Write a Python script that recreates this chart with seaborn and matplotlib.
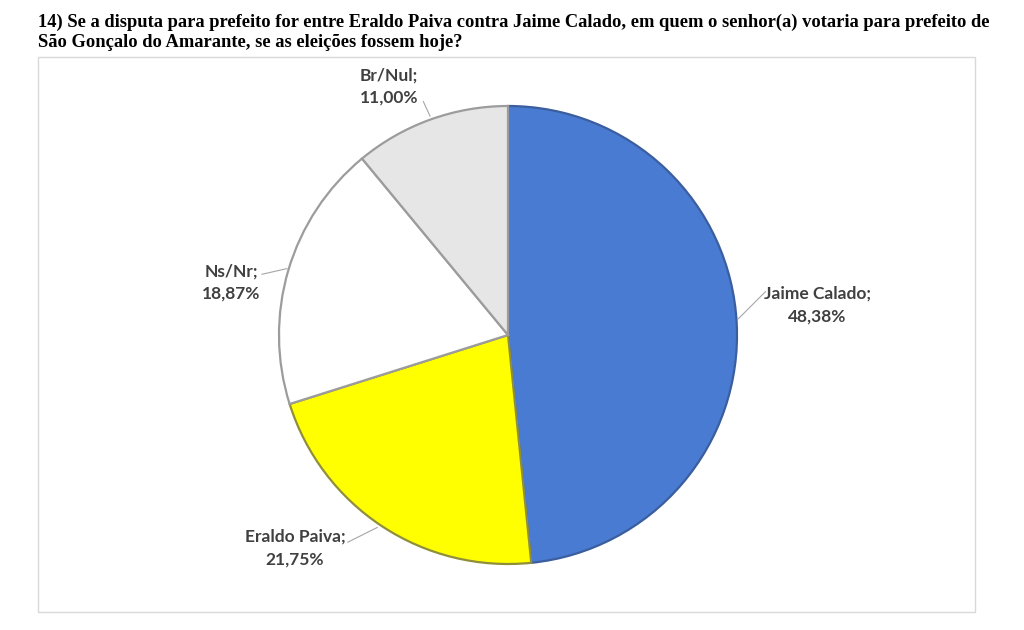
import matplotlib
matplotlib.use("Agg")
import matplotlib.pyplot as plt
import seaborn as sns
from matplotlib.patches import Rectangle

categories = ["Jaime Calado", "Eraldo Paiva", "Ns/Nr", "Br/Nul"]
values = [48.38, 21.75, 18.87, 11.00]
value_labels = ["48,38%", "21,75%", "18,87%", "11,00%"]
colors = ["#4A7BD2", "#FFFF00", "#FFFFFF", "#E6E6E6"]
edge_colors = ["#3A5E9E", "#8F8F3A", "#9C9C9C", "#9C9C9C"]

title = ("14) Se a disputa para prefeito for entre Eraldo Paiva contra Jaime Calado, em quem o senhor(a) votaria para prefeito de\n"
         "São Gonçalo do Amarante, se as eleições fossem hoje?")

sns.set_theme(style="white")
plt.rcParams["font.family"] = ["Lato", "DejaVu Sans"]

W, H = 1024, 630
fig = plt.figure(figsize=(W / 100, H / 100), dpi=100)
fig.patch.set_facecolor("white")

# plot-area border
fig.patches.append(Rectangle((38 / W, 1 - 612 / H), (975 - 38) / W, (612 - 57) / H,
                             transform=fig.transFigure, fill=False,
                             edgecolor="#D9D9D9", linewidth=1.0))

fig.text(38 / W, 1 - 14 / H, title, ha="left", va="top",
         fontsize=13.3, fontweight="bold", family="Liberation Serif",
         color="black", linespacing=1.2)

cx, cy, r = 508, 335, 229
ax = fig.add_axes([(cx - r) / W, (H - cy - r) / H, 2 * r / W, 2 * r / H])
wedges, _ = ax.pie(values, colors=colors, startangle=90, counterclock=False,
                   radius=1.0, wedgeprops=dict(linewidth=1.6))
for w, ec in zip(wedges, edge_colors):
    w.set_edgecolor(ec)
ax.set_xlim(-1, 1)
ax.set_ylim(-1, 1)
ax.set_aspect("equal")
ax.axis("off")

# label positions (text center) and leader lines (data units of the pie)
label_pos = [(1.35, 0.13), (-0.93, -0.93), (-1.21, 0.23), (-0.52, 1.085)]
line_pts = [((1.005, 0.07), (1.125, 0.19)),
            ((-0.57, -0.84), (-0.70, -0.905)),
            ((-0.965, 0.29), (-1.075, 0.265)),
            ((-0.34, 0.955), (-0.37, 1.02))]
for cat, lab, (tx, ty), (p0, p1) in zip(categories, value_labels, label_pos, line_pts):
    ax.text(tx, ty, f"{cat};\n{lab}", ha="center", va="center", fontsize=12.5,
            fontweight="bold", color="#404040", linespacing=1.5, clip_on=False)
    ax.plot([p0[0], p1[0]], [p0[1], p1[1]], color="#A6A6A6", linewidth=0.8,
            clip_on=False)

fig.savefig("out.png", dpi=100, facecolor="white")
